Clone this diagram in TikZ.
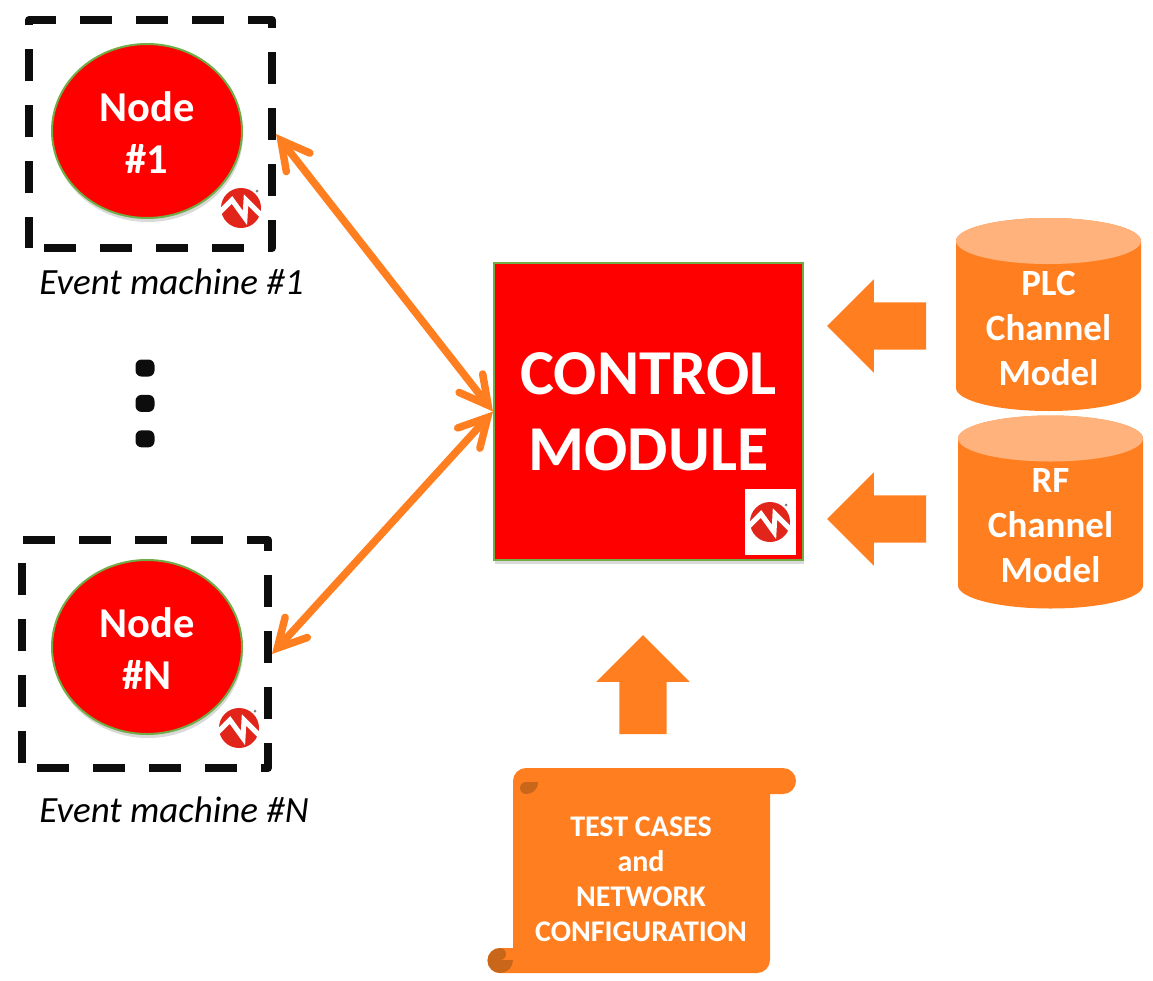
\documentclass[tikz,border=0pt]{standalone}
\usepackage{fontspec}
\setmainfont{Carlito}
\usetikzlibrary{
        arrows.meta,
        positioning,
        shadows,
        shapes.arrows,
        shapes.geometric
    }
\definecolor{chipred}{HTML}{FF0000}
\definecolor{logored}{HTML}{E1251B}
\definecolor{rimgreen}{HTML}{70AD47}
\definecolor{flatorange}{HTML}{FF7F20}
\definecolor{paleorange}{HTML}{FFB27C}
\definecolor{darkorange}{HTML}{C8661A}
\tikzset{
    softshadow/.style={drop shadow={shadow xshift=1pt,shadow yshift=-4pt,opacity=0.3}},
    machinebox/.style={draw=black!95,line width=8pt,line join=round,inner sep=0pt,
        dash pattern=on 32pt off 24pt,dash phase=41pt},
    nodecircle/.style={ellipse,draw=rimgreen,line width=2pt,fill=chipred,inner sep=0pt,
        minimum width=190pt,minimum height=174pt,softshadow},
    nodetext/.style={text=white,inner sep=0pt,align=center,
        font=\fontsize{42.5}{52}\selectfont\bfseries},
    machinelabel/.style={font=\fontsize{37}{42}\selectfont\itshape,inner sep=0pt},
    channeltext/.style={text=white,inner sep=0pt,align=center,
        font=\fontsize{37}{45}\selectfont\bfseries},
    channeldrum/.pic={
        \fill[flatorange] (-92.5,-73.5) -- (-92.5,73.5)
            arc[x radius=92.5pt,y radius=23pt,start angle=180,end angle=360] -- (92.5,-73.5)
            arc[x radius=92.5pt,y radius=23pt,start angle=0,end angle=180] -- cycle;
        \fill[paleorange] (0,-73.5) ellipse [x radius=92.5pt,y radius=23pt];
    },
    bigarrow/.style={single arrow,fill=flatorange,inner sep=23.5pt,
        minimum height=99pt,single arrow head extend=23pt,single arrow tip angle=90},
    link/.style={draw=flatorange,line width=7.5pt,line cap=round,
        {Straight Barb[length=28pt,width=30pt,line cap=round,line join=miter]}-{Straight Barb[length=28pt,width=30pt,line cap=round,line join=miter]}},
    dotmark/.style={rectangle,rounded corners=6pt,fill=black!95,minimum width=19pt,minimum height=17pt,inner sep=0pt},
    mchplogo/.pic={
        \fill[logored] (0,0) circle (20pt);
        \draw[white,line width=5pt,line join=miter] (-22,5) -- (-9,-8) -- (4,10) -- (5,-8) -- (22,9);
        \fill[gray] (16,-17) circle (1.5pt);
    }
}

\begin{document}
\begin{tikzpicture}[x=1pt,y=-1pt]
    \useasboundingbox (0,0) rectangle (1153,980);
    \node[machinebox,minimum width=243pt,minimum height=228pt] (em1) at (150.5,134) {};
    \node[machinebox,minimum width=246pt,minimum height=228pt] (emN) at (145,654) {};
    \node[nodecircle] (n1) at (147,131) {};
    \node[nodecircle] (nN) at (147,647) {};
    \node[nodetext,yshift=-2pt] (t1) at (n1) {Node\\\#1};
    \node[nodetext,yshift=-2pt] (tN) at (nN) {Node\\\#N};
    \pic at (241,208) {mchplogo};
    \pic at (239,728) {mchplogo};
    \node[machinelabel] (lab1) [below=17pt of em1,xshift=21pt] {Event machine \#1};
    \node[machinelabel] (labN) [below=25pt of emN,xshift=29pt] {Event machine \#N};
    \node[dotmark] (d1) at (145,368) {};
    \node[dotmark] (d2) [below=18pt of d1] {};
    \node[dotmark] (d3) [below=18pt of d2] {};
    \node[draw=rimgreen,line width=2pt,fill=chipred,text=white,inner sep=0pt,align=center,
        minimum width=309pt,minimum height=297pt,softshadow,
        font=\fontsize{64}{76}\selectfont\bfseries] (ctrl) at (648.5,411.5) {CONTROL\\MODULE};
    \node[fill=white,minimum width=51pt,minimum height=66pt,inner sep=0pt] (logobg) at (770.5,522) {};
    \pic at (770,522) {mchplogo};
    \pic at (1048.5,314.5) {channeldrum};
    \pic at (1050.5,512) {channeldrum};
    \node[channeltext] (plc) at (1048.5,328) {PLC\\Channel\\Model};
    \node[channeltext] (rf) at (1050.5,525.5) {RF\\Channel\\Model};
    \node[bigarrow,shape border rotate=180] (aplc) at (888.5,326) {};
    \node[bigarrow,shape border rotate=180] (arf) at (888.5,519) {};
    \node[bigarrow,shape border rotate=90] (acfg) at (643,696.5) {};
    \path (em1.east) edge[link] (ctrl.west);
    \path (emN.east) edge[link] (ctrl.west);
    % scroll
    \fill[flatorange] (513,948) -- (513,781) arc[start angle=180,end angle=90,radius=13pt]
        -- (783,768) arc[start angle=90,end angle=-90,radius=13pt] -- (770,794) -- (770,960)
        arc[start angle=0,end angle=-90,radius=13pt] -- (500,973)
        arc[start angle=-90,end angle=-270,radius=12.5pt] -- cycle;
    \fill[darkorange] (538,782) -- (526,782) arc[start angle=90,end angle=270,radius=6pt]
        .. controls (532,794) and (538,790) .. (538,782);
    \fill[darkorange] (500,973) arc[start angle=-90,end angle=-270,radius=12.5pt]
        arc[start angle=90,end angle=-90,radius=6pt] -- (513,960)
        arc[start angle=0,end angle=-90,radius=13pt];
    \node[text=white,align=center,inner sep=0pt,font=\fontsize{30}{35}\selectfont\bfseries]
        (cfg) at (641,879) {TEST CASES\\and\\NETWORK\\CONFIGURATION};
\end{tikzpicture}
\end{document}
